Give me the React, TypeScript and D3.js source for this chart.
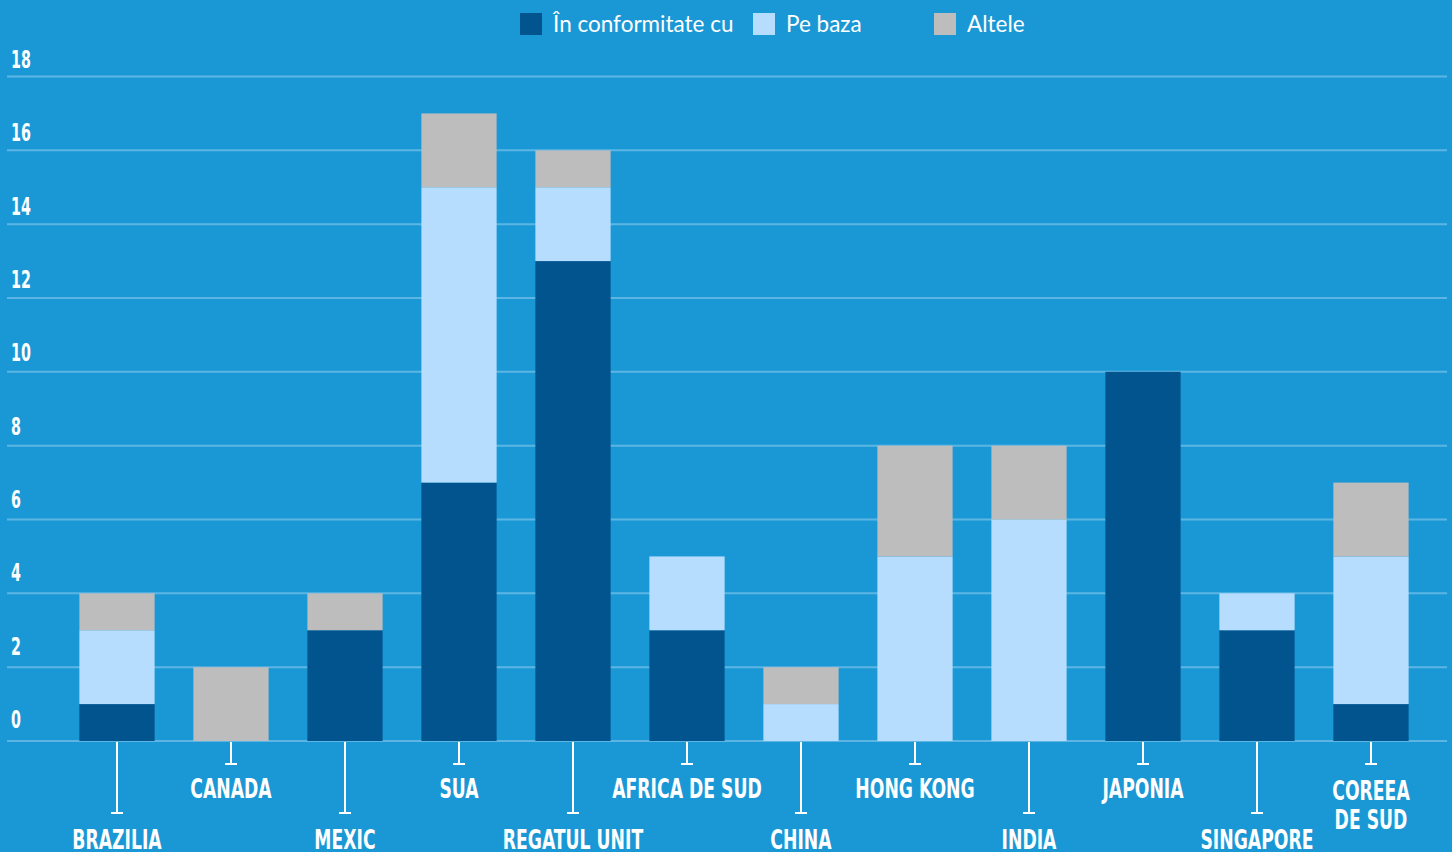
import * as d3 from "d3";
import React, { useEffect, useRef } from "react";

const countries = [
  "BRAZILIA",
  "CANADA",
  "MEXIC",
  "SUA",
  "REGATUL UNIT",
  "AFRICA DE SUD",
  "CHINA",
  "HONG KONG",
  "INDIA",
  "JAPONIA",
  "SINGAPORE",
  "COREEA DE SUD",
];
const conformitate = [1, 0, 3, 7, 13, 3, 0, 0, 0, 10, 3, 1];
const peBaza = [2, 0, 0, 8, 2, 2, 1, 5, 6, 0, 1, 4];
const altele = [1, 2, 1, 2, 1, 0, 1, 3, 2, 0, 0, 2];
const seriesNames = ["În conformitate cu", "Pe baza", "Altele"];
const yTicks = [0, 2, 4, 6, 8, 10, 12, 14, 16, 18];

const W = 1452;
const H = 852;
const colors = ["#02548e", "#b6ddfd", "#bdbdbd"];
const condensed = "'DejaVu Sans Condensed', 'DejaVu Sans', sans-serif";

const App: React.FC = () => {
  const ref = useRef<SVGSVGElement>(null);

  useEffect(() => {
    document.body.style.margin = "0";
    const svg = d3.select(ref.current);
    svg.selectAll("*").remove();

    svg.append("rect").attr("width", W).attr("height", H).attr("fill", "#1a98d5");

    const x = d3
      .scaleBand()
      .domain(countries)
      .range([60, 1428])
      .paddingInner(0.34)
      .paddingOuter(0.17);
    const y = d3.scaleLinear().domain([0, 18]).range([741, 76.5]);

    // gridlines
    svg
      .append("g")
      .selectAll("line")
      .data(yTicks)
      .enter()
      .append("line")
      .attr("x1", 7)
      .attr("x2", 1447)
      .attr("y1", (d) => y(d))
      .attr("y2", (d) => y(d))
      .attr("stroke", "#5db5e3")
      .attr("stroke-width", 2);

    // y labels sit a little above their lines, drifting slightly towards the bottom
    svg
      .append("g")
      .selectAll("text")
      .data(yTicks)
      .enter()
      .append("text")
      .attr("transform", (d) => `translate(11, ${y(d) - 8.5 - ((18 - d) / 18) * 4.5}) scale(0.66, 1)`)
      .attr("fill", "#fff")
      .attr("font-family", condensed)
      .attr("font-weight", "bold")
      .attr("font-size", 24)
      .text((d) => d);

    // stacked bars
    const table = countries.map((c, i) => ({
      country: c,
      a: conformitate[i],
      b: peBaza[i],
      c: altele[i],
    }));
    const stack = d3.stack<any>().keys(["a", "b", "c"])(table);

    svg
      .append("g")
      .selectAll("g")
      .data(stack)
      .enter()
      .append("g")
      .attr("fill", (_, i) => colors[i])
      .selectAll("rect")
      .data((s) => s.filter((d) => d[1] - d[0] > 0))
      .enter()
      .append("rect")
      .attr("x", (d) => x(d.data.country)!)
      .attr("y", (d) => y(d[1]))
      .attr("width", x.bandwidth())
      .attr("height", (d) => y(d[0]) - y(d[1]));

    // category ticks and labels
    const ticks = svg.append("g");
    countries.forEach((c, i) => {
      const cx = x(c)! + x.bandwidth() / 2;
      const long = i % 2 === 0;
      const end = long ? 813 : 764;
      ticks
        .append("line")
        .attr("x1", cx)
        .attr("x2", cx)
        .attr("y1", 742)
        .attr("y2", end)
        .attr("stroke", "#fff")
        .attr("stroke-width", 2);
      ticks
        .append("line")
        .attr("x1", cx - 6)
        .attr("x2", cx + 6)
        .attr("y1", end)
        .attr("y2", end)
        .attr("stroke", "#fff")
        .attr("stroke-width", 2);

      const lines = c === "COREEA DE SUD" ? ["COREEA", "DE SUD"] : [c];
      const base = long ? 849 : lines.length > 1 ? 800 : 798;
      lines.forEach((t, j) => {
        ticks
          .append("text")
          .attr("transform", `translate(${cx}, ${base + j * 29}) scale(0.71, 1)`)
          .attr("text-anchor", "middle")
          .attr("fill", "#fff")
          .attr("font-family", condensed)
          .attr("font-weight", "bold")
          .attr("font-size", 27)
          .text(t);
      });
    });

    // legend
    const legendX = [520, 753, 934];
    const legend = svg.append("g");
    seriesNames.forEach((name, i) => {
      legend
        .append("rect")
        .attr("x", legendX[i])
        .attr("y", 13)
        .attr("width", 22)
        .attr("height", 22)
        .attr("fill", colors[i]);
      legend
        .append("text")
        .attr("x", legendX[i] + 33)
        .attr("y", 32)
        .attr("fill", "#fff")
        .attr("font-family", "Lato, 'Open Sans', sans-serif")
        .attr("font-size", 22.5)
        .text(name);
    });
  }, []);

  return <svg ref={ref} width={W} height={H} style={{ display: "block" }} />;
};

export default App;
